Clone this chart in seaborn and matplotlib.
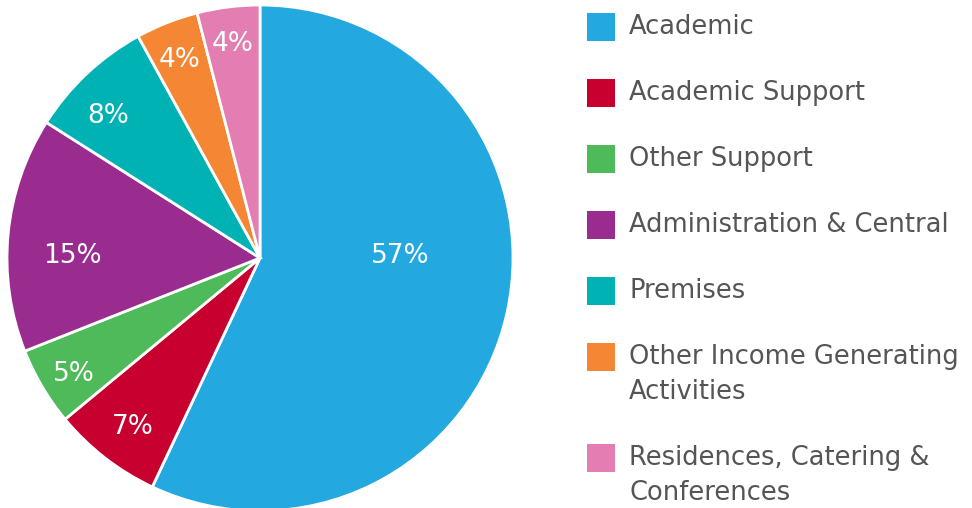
import numpy as np
import matplotlib.pyplot as plt
import seaborn as sns
from matplotlib.patches import Rectangle

categories = ['Academic', 'Academic Support', 'Other Support', 'Administration & Central',
              'Premises', 'Other Income Generating\nActivities',
              'Residences, Catering &\nConferences']
shares = [57, 7, 5, 15, 8, 4, 4]
# where the designer put each percentage (radius fraction, angle nudge in degrees)
label_radius = [0.553, 0.835, 0.866, 0.743, 0.822, 0.845, 0.853]
label_nudge = [13.4, 0.9, 1.4, 4.8, 3.7, 0.4, 0]

sns.set_theme(style='white')
plt.rcParams['font.family'] = ['DejaVu Sans']
palette = sns.color_palette(['#23A8E0', '#C8002F', '#4FBA5A', '#9B2C8F',
                             '#00B2B4', '#F58634', '#E37DB2'])

fig = plt.figure(figsize=(9.72, 5.08), dpi=100)
W, H = 972, 508
cx, cy, r = 260, 258, 253
ax = fig.add_axes([(cx - r) / W, (H - cy - r) / H, 2 * r / W, 2 * r / H])

wedges, _ = ax.pie(shares, colors=palette, startangle=90, counterclock=False,
                   wedgeprops=dict(edgecolor='white', linewidth=2))
ax.set_xlim(-1, 1)
ax.set_ylim(-1, 1)
ax.set_aspect('equal')

total = sum(shares)
start = 90
for val, rad, nudge in zip(shares, label_radius, label_nudge):
    mid = np.deg2rad(start - 360 * val / total / 2 + nudge)
    ax.text(rad * np.cos(mid), rad * np.sin(mid), f'{val}%', color='white',
            fontsize=19, ha='center', va='center')
    start -= 360 * val / total

# legend
lax = fig.add_axes([0, 0, 1, 1])
lax.set_xlim(0, W)
lax.set_ylim(H, 0)
lax.axis('off')
y = 27
for cat, col in zip(categories, palette):
    lax.add_patch(Rectangle((587, y - 14), 28, 28, facecolor=col, edgecolor='none'))
    lines = cat.split('\n')
    for j, line in enumerate(lines):
        lax.text(629, y + 35 * j, line, color='#555555', fontsize=18.5,
                 ha='left', va='center')
    y += 66 + 35 * (len(lines) - 1)

fig.savefig('out.png', dpi=100, facecolor='white')
